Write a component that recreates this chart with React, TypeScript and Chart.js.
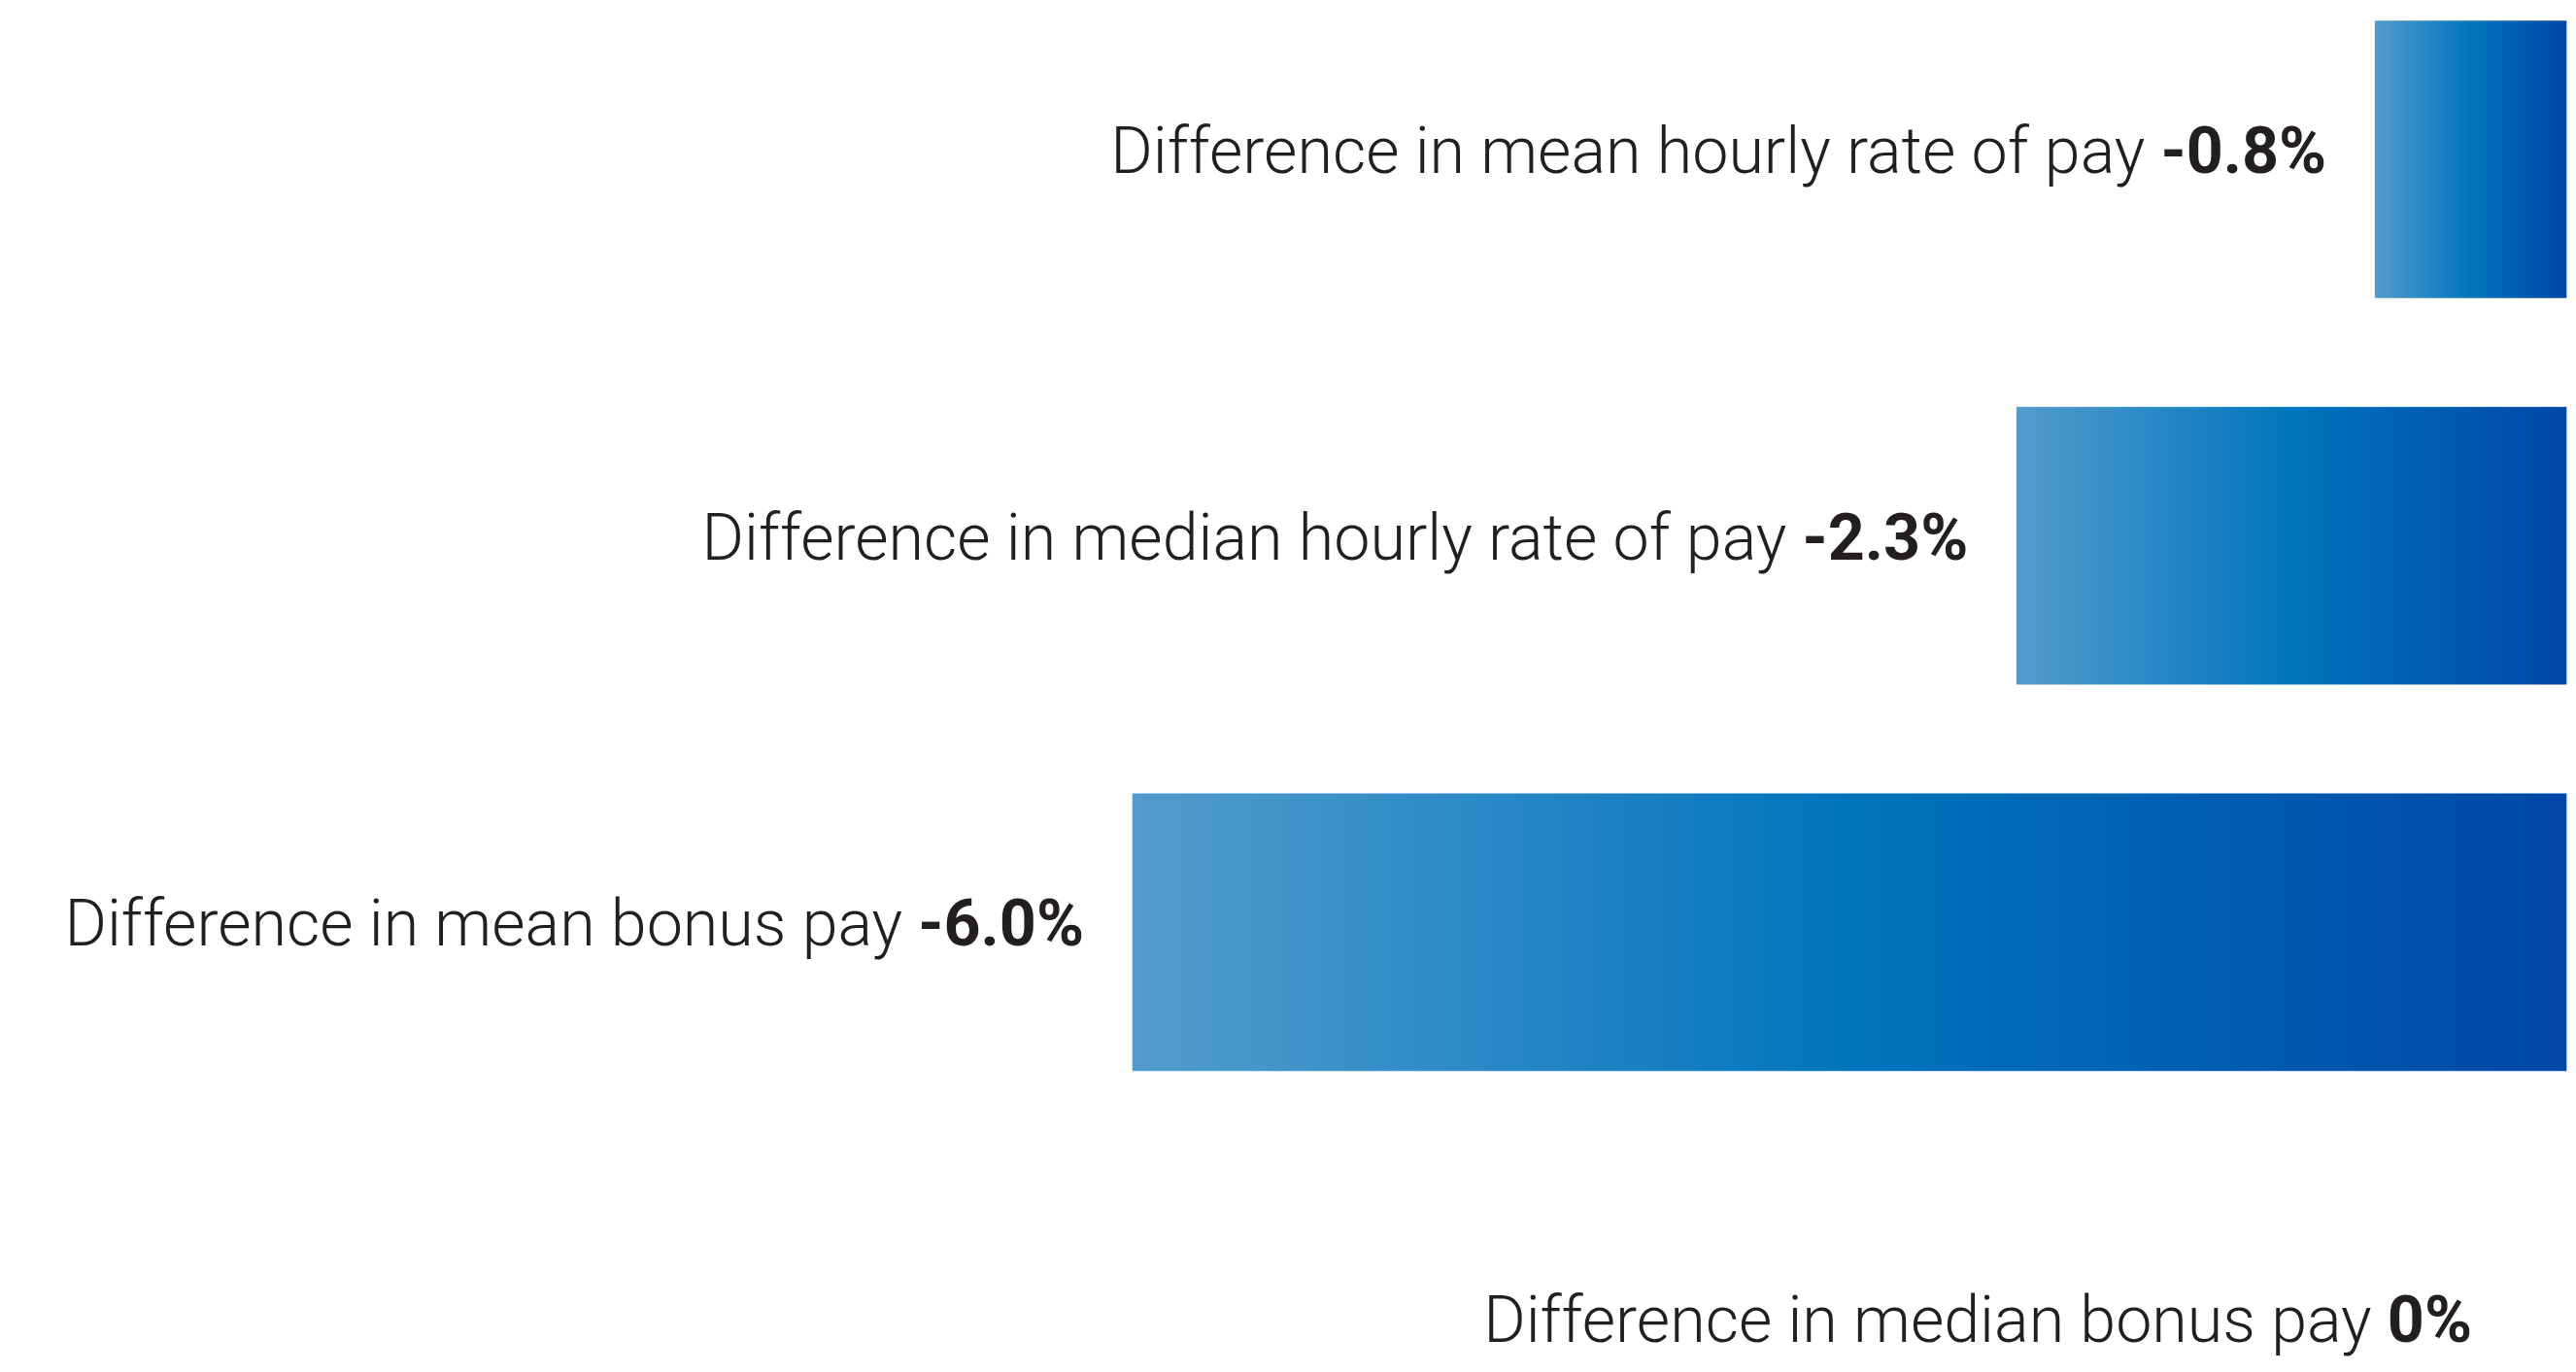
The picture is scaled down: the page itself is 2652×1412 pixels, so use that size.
import React, { useEffect, useRef } from "react";
import { Chart, registerables } from "chart.js";

Chart.register(...registerables);

const categories = [
  "Difference in mean hourly rate of pay",
  "Difference in median hourly rate of pay",
  "Difference in mean bonus pay",
  "Difference in median bonus pay",
];
const values = [-0.8, -2.3, -6.0, 0];
const valueLabels = ["-0.8%", "-2.3%", "-6.0%", "0%"];

const FONT_SIZE = 66.4;
const FONT_FAMILY = "Roboto, 'Liberation Sans', sans-serif";

const labelPlugin = {
  id: "barLabels",
  afterDatasetsDraw(chart: any) {
    const ctx = chart.ctx;
    const meta = chart.getDatasetMeta(0);
    meta.data.forEach((bar: any, i: number) => {
      const p = bar.getProps(["x", "y", "base"], true);
      const left = Math.min(p.x, p.base);
      const isZero = values[i] === 0;
      const gap = isZero ? 97 : 50;
      const right = left - gap;
      const baseline = p.y + 14 + (isZero ? 10 : 0);
      ctx.save();
      ctx.fillStyle = "#231f20";
      ctx.textBaseline = "alphabetic";
      ctx.textAlign = "right";
      ctx.font = `700 ${FONT_SIZE}px ${FONT_FAMILY}`;
      const vw = ctx.measureText(valueLabels[i]).width;
      ctx.fillText(valueLabels[i], right, baseline);
      ctx.font = `300 ${FONT_SIZE}px ${FONT_FAMILY}`;
      ctx.fillText(categories[i] + " ", right - vw, baseline);
      ctx.restore();
    });
  },
};

export default function App() {
  const canvasRef = useRef<HTMLCanvasElement | null>(null);

  useEffect(() => {
    document.body.style.margin = "0";
    document.body.style.overflow = "hidden";
    const canvas = canvasRef.current;
    if (!canvas) return;
    const chart = new Chart(canvas, {
      type: "bar",
      data: {
        labels: categories,
        datasets: [
          {
            data: values,
            clip: false as any,
            barThickness: 285,
            borderWidth: 0,
            backgroundColor: (c: any) => {
              const ch = c.chart;
              if (!ch.chartArea || c.type !== "data") return "#0074bd";
              const xs = ch.scales.x;
              const x0 = xs.getPixelForValue(c.raw);
              const x1 = xs.getPixelForValue(0);
              if (Math.abs(x1 - x0) < 1) return "rgba(0,0,0,0)";
              const g = ch.ctx.createLinearGradient(Math.min(x0, x1), 0, Math.max(x0, x1), 0);
              g.addColorStop(0, "#529ccd");
              g.addColorStop(0.5, "#0075bd");
              g.addColorStop(1, "#0047a7");
              return g;
            },
          },
        ],
      },
      options: {
        indexAxis: "y",
        animation: false,
        responsive: true,
        maintainAspectRatio: false,
        layout: { padding: { top: 164, bottom: 55, left: 0, right: 10 } },
        plugins: {
          legend: { display: false },
          tooltip: { enabled: false },
        },
        scales: {
          x: { type: "linear", min: -10.74, max: 0, display: false },
          y: { type: "category", offset: false, display: false, grid: { display: false } },
        },
      },
      plugins: [labelPlugin],
    });
    return () => chart.destroy();
  }, []);

  return (
    <div style={{ width: "2652px", height: "1412px", position: "relative", background: "#ffffff" }}>
      <canvas ref={canvasRef} />
    </div>
  );
}
